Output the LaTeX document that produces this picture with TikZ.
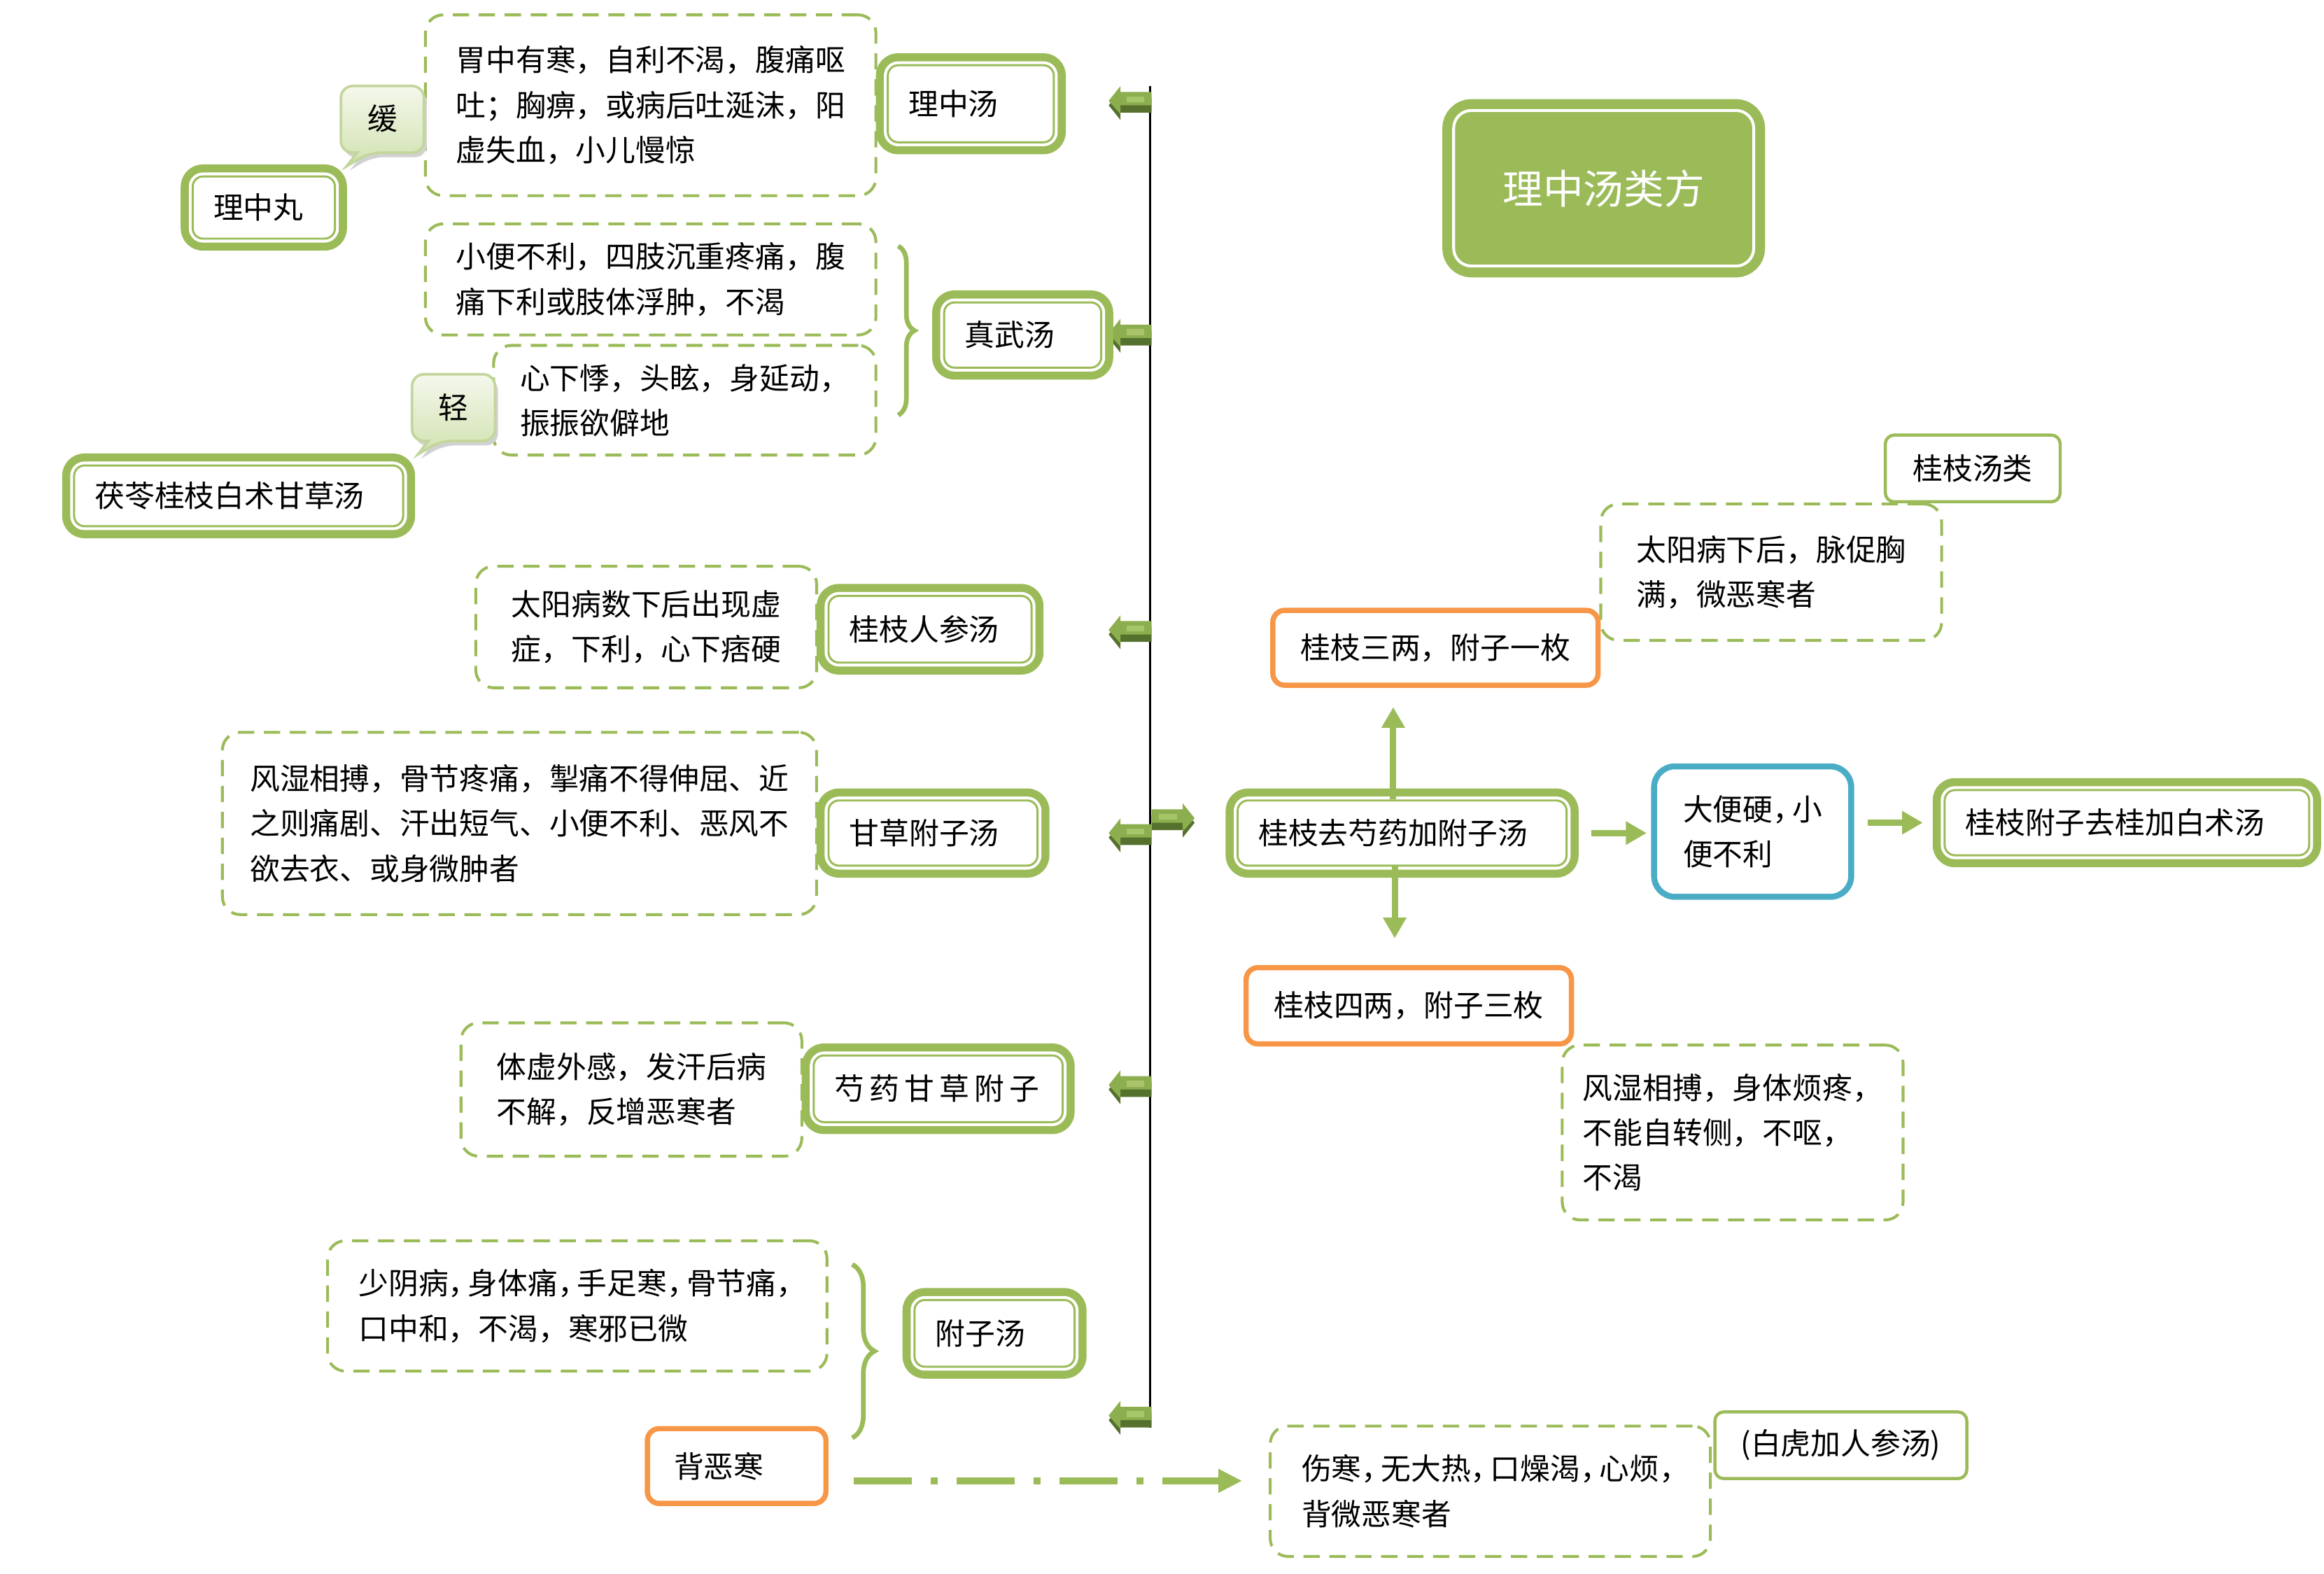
\documentclass[tikz,border=0pt]{standalone}
\usepackage{fontspec}
\setmainfont{Noto Sans CJK SC}
\usetikzlibrary{arrows.meta,decorations.pathreplacing}
\definecolor{gr}{HTML}{9BBB59}
\definecolor{og}{HTML}{F79646}
\definecolor{bl}{HTML}{4BACC6}
\definecolor{flaglight}{HTML}{8DAE4E}
\definecolor{flaghigh}{HTML}{A8C56C}
\definecolor{flagdark}{HTML}{56702E}
\definecolor{bubtop}{HTML}{F4F8EC}
\definecolor{bubbot}{HTML}{D2E2B0}
\definecolor{bubline}{HTML}{C3D69B}
\newcommand{\dou}{，\kern-0.35em}
\tikzset{
  herbbox/.style={rounded corners=0.14cm, draw=gr, line width=0.8pt, fill=white,
    preaction={draw=gr, line width=9.2pt}, preaction={draw=white, line width=3pt},
    inner xsep=0.28cm, inner ysep=0pt, align=left},
  titlebox/.style={rounded corners=0.24cm, fill=gr, draw=white, line width=1.1pt,
    preaction={draw=gr, line width=8.7pt}, text=white, font=\fontsize{15.5pt}{18pt}\selectfont},
  notebox/.style={draw=gr, line width=1.1pt, dash pattern=on 0.22cm off 0.13cm,
    rounded corners=0.24cm, inner sep=0pt, align=left},
  dosebox/.style={draw=og, line width=2pt, rounded corners=0.16cm, fill=white, inner sep=0pt, align=left},
  symbox/.style={draw=bl, line width=2.3pt, rounded corners=0.28cm, fill=white, inner sep=0pt, align=left},
  plainbox/.style={draw=gr, line width=1.2pt, rounded corners=0.12cm, fill=white, inner sep=0pt},
  flow/.style={draw=gr, line width=2.4pt, -{Triangle[length=0.28cm,width=0.3cm]}},
  hint/.style={draw=gr, line width=2.7pt, dash pattern=on 0.78cm off 0.26cm on 0.09cm off 0.26cm,
    -{Triangle[length=0.32cm,width=0.3cm]}},
  herbbrace/.style={draw=gr, line width=1.8pt, decorate, decoration={brace, amplitude=#1}},
  leftflag/.pic={
    \fill[flagdark] (0,-3) -- (-21,-3) -- (-21,-7) -- (-29,2) -- (-21,12) -- (-21,7) -- (0,7) -- cycle;
    \fill[flaglight] (0,-7) -- (-21,-7) -- (-21,-11) -- (-29,-1) -- (-21,8) -- (-21,2) -- (0,2) -- cycle;
    \fill[flaghigh] (-17,-4) rectangle (-5,0);
  },
  callbub/.pic={
    \fill[black!18, shift={(2,3)}] (28,0) [rounded corners=0.16cm] -- (56,0) -- (56,45) -- (19,45)
      [sharp corners] -- (4,54) -- (11,45) [rounded corners=0.16cm] -- (0,45) -- (0,0) -- cycle;
    \shade[top color=bubtop, bottom color=bubbot, draw=bubline, line width=1pt] (28,0)
      [rounded corners=0.16cm] -- (56,0) -- (56,45) -- (19,45)
      [sharp corners] -- (4,54) -- (11,45) [rounded corners=0.16cm] -- (0,45) -- (0,0) -- cycle;
  }
}
\begin{document}
\begin{tikzpicture}[x=0.02cm, y=-0.02cm, font=\fontsize{11.5pt}{17.3pt}\selectfont]
    \useasboundingbox (0,0) rectangle (1568,1061.4);

    % Drawing the trunk line
    \coordinate (trunktop) at (776,58);
    \coordinate (trunkbot) at (776,963);
    \draw [line width=0.9pt] (trunktop) -- (trunkbot);

    % Marking the flags on the trunk
    \pic at (777,69) {leftflag};
    \pic at (777,226) {leftflag};
    \pic at (777,426) {leftflag};
    \pic at (777,563) {leftflag};
    \pic[xscale=-1] at (777,553) {leftflag};
    \pic at (777,733) {leftflag};
    \pic at (777,956) {leftflag};

    % Notes, left side
    \node [notebox, minimum width=6.08cm, minimum height=2.44cm] (n1) at (439,71) {胃中有寒，自利不渴，腹痛呕\\吐；胸痹，或病后吐涎沫，阳\\虚失血，小儿慢惊};
    \node [notebox, minimum width=6.08cm, minimum height=1.5cm] (n2) at (439,188.5) {小便不利，四肢沉重疼痛，腹\\痛下利或肢体浮肿，不渴};
    \node [notebox, minimum width=5.16cm, minimum height=1.48cm] (n3) at (462,270) {心下悸，头眩，身延动，\\振振欲僻地};
    \node [notebox, minimum width=4.6cm, minimum height=1.64cm] (n4) at (436,423) {太阳病数下后出现虚\\症，下利，心下痞硬};
    \node [notebox, minimum width=8.02cm, minimum height=2.46cm] (n5) at (350.5,555.5) {风湿相搏，骨节疼痛，掣痛不得伸屈、近\\之则痛剧、汗出短气、小便不利、恶风不\\欲去衣、或身微肿者};
    \node [notebox, minimum width=4.6cm, minimum height=1.8cm] (n6) at (426,735) {体虚外感，发汗后病\\不解，反增恶寒者};
    \node [notebox, minimum width=6.74cm, minimum height=1.76cm] (n7) at (389.5,881) {少阴病\dou 身体痛\dou 手足寒\dou 骨节痛\dou\\口中和，不渴，寒邪已微};

    % Notes, right side
    \node [notebox, minimum width=4.6cm, minimum height=1.84cm] (n8) at (1195,386) {太阳病下后，脉促胸\\满，微恶寒者};
    \node [notebox, minimum width=4.6cm, minimum height=2.36cm] (n9) at (1169,764) {风湿相搏，身体烦疼，\\不能自转侧，不呕，\\不渴};
    \node [notebox, minimum width=5.94cm, minimum height=1.76cm] (n10) at (1005.5,1006) {伤寒\dou 无大热\dou 口燥渴\dou 心烦\dou\\背微恶寒者};

    % Marking the bubbles
    \pic at (230,58) {callbub};
    \node (huan) at (258,80) {缓};
    \pic at (278,252.5) {callbub};
    \node (qing) at (306,275) {轻};

    % Drawing the braces
    \draw [herbbrace=0.22cm] (606,166) -- (606,280);
    \draw [herbbrace=0.3cm] (575,853) -- (575,970);

    % Formula boxes
    \node [herbbox, text width=1.68cm, minimum height=1.04cm] (lzt) at (655,70) {理中汤};
    \node [herbbox, text width=1.36cm, minimum height=0.84cm] (lzw) at (178,140) {理中丸};
    \node [herbbox, text width=1.56cm, minimum height=0.88cm] (zwt) at (690,226) {真武汤};
    \node [herbbox, text width=3.88cm, minimum height=0.82cm] (flgz) at (161,334.5) {茯苓桂枝白术甘草汤};
    \node [herbbox, text width=2.18cm, minimum height=0.9cm] (gzrs) at (627.5,424.5) {桂枝人参汤};
    \node [herbbox, text width=2.26cm, minimum height=0.88cm] (gcfz) at (629.5,562) {甘草附子汤};
    \node [herbbox, text width=2.8cm, minimum height=0.9cm] (sygc) at (633,734.5) {芍\,药\,甘\,草\,附\,子};
    \node [herbbox, text width=1.6cm, minimum height=0.9cm] (fzt) at (671,899.5) {附子汤};
    \node [herbbox, text width=3.88cm, minimum height=0.88cm] (gzqs) at (946,562) {桂枝去芍药加附子汤};
    \node [herbbox, text width=4.36cm, minimum height=0.88cm] (gzfz) at (1435,555) {桂枝附子去桂加白术汤};

    % Title
    \node [titlebox, minimum width=4.05cm, minimum height=2.1cm] (title) at (1082,127) {理中汤类方};

    % Dose and symptom boxes
    \node [dosebox, minimum width=4.39cm, minimum height=1.01cm] (gz3) at (968.5,437) {桂枝三两，附子一枚};
    \node [dosebox, minimum width=4.39cm, minimum height=1.03cm] (gz4) at (950.5,678.5) {桂枝四两，附子三枚};
    \node [dosebox, inner xsep=0.36cm, text width=1.69cm, minimum height=1.01cm] (bew) at (497,989) {背恶寒};
    \node [symbox, minimum width=2.66cm, minimum height=1.76cm] (dbyj) at (1182.5,561) {大便硬\dou 小\\便不利};
    \node [plainbox, minimum width=2.36cm, minimum height=0.9cm] (gzl) at (1331,316) {桂枝汤类};
    \node [plainbox, minimum width=3.4cm, minimum height=0.9cm] (bh) at (1242,975) {(白虎加人参汤)};

    % Drawing the arrows
    \coordinate (upfoot) at ([xshift=-0.12cm]gzqs.north);
    \draw [flow, shorten >=0.26cm] (upfoot) -- (upfoot |- gz3.south);
    \coordinate (downfoot) at ([xshift=-0.1cm]gzqs.south);
    \draw [flow, shorten >=0.36cm] (downfoot) -- (downfoot |- gz4.north);
    \draw [flow, shorten <=0.32cm, shorten >=0.06cm] (gzqs.east) -- (gzqs.east -| dbyj.west);
    \draw [flow, shorten <=0.18cm, shorten >=0.28cm] (dbyj.east |- gzfz.west) -- (gzfz.west);
    \coordinate (hintfoot) at ([yshift=-0.2cm]bew.east);
    \draw [hint, shorten <=0.34cm, shorten >=0.36cm] (hintfoot) -- (hintfoot -| n10.west);
\end{tikzpicture}
\end{document}
